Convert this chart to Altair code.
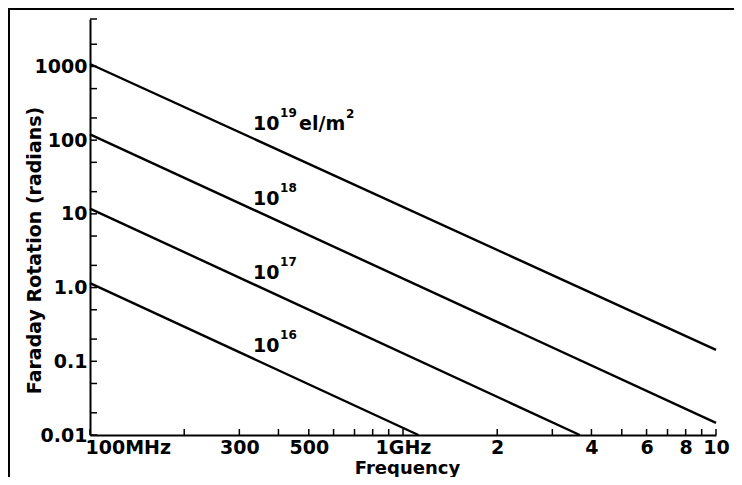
import altair as alt
import pandas as pd

# ---- data ----
series = ["1e19", "1e19", "1e18", "1e18", "1e17", "1e17", "1e16", "1e16"]
freq_hz = [1e8, 1e10, 1e8, 1e10, 1e8, 3.67e9, 1e8, 1.12e9]
rotation = [1080, 0.143, 120, 0.0146, 11.8, 0.01, 1.15, 0.01]

label_freq = [3.32e8, 3.32e8, 3.32e8, 3.32e8]
label_rot = [166, 16, 1.6, 0.16]
label_base = ["10", "10", "10", "10"]
label_exp = ["19", "18", "17", "16"]

x_label_values = [1e8, 3e8, 5e8, 1e9, 2e9, 4e9, 6e9, 8e9, 1e10]
x_label_text = ["100MHz", "300", "500", "1GHz", "2", "4", "6", "8", "10"]
x_tick_values = [1e8, 2e8, 3e8, 4e8, 5e8, 6e8, 7e8, 8e8, 9e8,
                 1e9, 2e9, 3e9, 4e9, 5e9, 6e9, 7e9, 8e9, 9e9, 1e10]
y_label_values = [0.01, 0.1, 1, 10, 100, 1000]
y_tick_values = [0.01, 0.02, 0.05, 0.1, 0.2, 0.5, 1, 2, 5, 10, 20, 50,
                 100, 200, 500, 1000, 2000, 4400]
y_top = 4400

FONT = "DejaVu Sans"
W, H = 626, 416

lines_df = pd.DataFrame({"series": series, "freq": freq_hz, "rot": rotation})
labels_df = pd.DataFrame({"freq": label_freq, "rot": label_rot,
                          "base": label_base, "exp": label_exp})
unit_df = labels_df.iloc[:1]

xscale = alt.Scale(type="log", domain=[1e8, 1e10], nice=False)
yscale = alt.Scale(type="log", domain=[0.01, y_top], nice=False)

x_vals_js = "[" + ",".join(repr(v) for v in x_label_values) + "]"
x_txt_js = "[" + ",".join("'" + t + "'" for t in x_label_text) + "]"

x_axis = alt.Axis(
    values=x_label_values,
    labelExpr=f"{x_txt_js}[indexof({x_vals_js}, datum.value)]",
    labelAlign=alt.ExprRef(expr="datum.value == 1e8 ? 'left' : 'center'"),
    labelOffset=alt.ExprRef(expr="datum.value == 1e8 ? -5 : 0"),
    ticks=False, grid=False,
    domainColor="black", domainWidth=2,
    labelFont=FONT, labelFontSize=19, labelFontWeight="bold",
    labelColor="black", labelPadding=3, labelBaseline="top",
    title="Frequency", titleFont=FONT, titleFontSize=18,
    titleFontWeight="bold", titleColor="black",
    titleX=317, titleY=38, titleBaseline="alphabetic", titleAlign="center",
)
y_axis = alt.Axis(
    values=y_label_values,
    labelExpr="datum.value >= 10 ? format(datum.value, 'd') : (datum.value == 1 ? '1.0' : toString(datum.value))",
    ticks=False, grid=False,
    domainColor="black", domainWidth=2,
    labelFont=FONT, labelFontSize=19, labelFontWeight="bold",
    labelColor="black", labelPadding=3,
    title="Faraday Rotation (radians)", titleFont=FONT, titleFontSize=19,
    titleFontWeight="bold", titleColor="black",
    titleAngle=-90, titleX=-56, titleY=231,
    titleBaseline="middle", titleAlign="center",
)

lines = alt.Chart(lines_df).mark_line(color="black", strokeWidth=2.4).encode(
    x=alt.X("freq:Q", scale=xscale, axis=x_axis),
    y=alt.Y("rot:Q", scale=yscale, axis=y_axis),
    detail="series:N",
)

xticks = alt.Chart(pd.DataFrame({"v": x_tick_values})).mark_rule(
    color="black", strokeWidth=1.5
).encode(
    x=alt.X("v:Q", scale=xscale),
    y=alt.value(H), y2=alt.value(H - 6),
)
yticks = alt.Chart(pd.DataFrame({"v": y_tick_values})).mark_rule(
    color="black", strokeWidth=1.5
).encode(
    y=alt.Y("v:Q", scale=yscale),
    x=alt.value(0), x2=alt.value(7),
)

base_txt = alt.Chart(labels_df).mark_text(
    font=FONT, fontSize=19, fontWeight="bold", align="left",
    baseline="middle", color="black"
).encode(
    x=alt.X("freq:Q", scale=xscale), y=alt.Y("rot:Q", scale=yscale),
    text="base:N",
)
exp_txt = alt.Chart(labels_df).mark_text(
    font=FONT, fontSize=12, fontWeight="bold", align="left",
    baseline="middle", color="black", dx=27, dy=-11
).encode(
    x=alt.X("freq:Q", scale=xscale), y=alt.Y("rot:Q", scale=yscale),
    text="exp:N",
)
unit_txt = alt.Chart(unit_df).mark_text(
    font=FONT, fontSize=19, fontWeight="bold", align="left",
    baseline="middle", color="black", dx=46
).encode(
    x=alt.X("freq:Q", scale=xscale), y=alt.Y("rot:Q", scale=yscale),
    text=alt.value("el/m"),
)
unit_sup = alt.Chart(unit_df).mark_text(
    font=FONT, fontSize=12, fontWeight="bold", align="left",
    baseline="middle", color="black", dx=93, dy=-10
).encode(
    x=alt.X("freq:Q", scale=xscale), y=alt.Y("rot:Q", scale=yscale),
    text=alt.value("2"),
)

frame_left = alt.Chart(unit_df).mark_rule(color="black", strokeWidth=2).encode(
    x=alt.value(-81), y=alt.value(-11), y2=alt.value(H + 60),
)
frame_top = alt.Chart(unit_df).mark_rule(color="black", strokeWidth=2).encode(
    x=alt.value(-82), x2=alt.value(W + 30), y=alt.value(-10),
)

chart = alt.layer(
    lines, xticks, yticks, base_txt, exp_txt, unit_txt, unit_sup,
    frame_left, frame_top
).properties(
    width=W, height=H,
    autosize=alt.AutoSizeParams(type="none"),
    padding={"left": 82, "top": 11, "right": 18, "bottom": 42},
    background="white",
).configure_view(stroke=None)

chart.save("out.html", embed_options={"renderer": "svg", "actions": False})
